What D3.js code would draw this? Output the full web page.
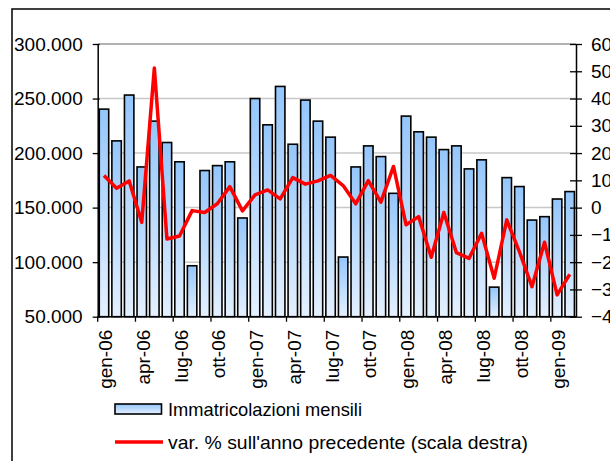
<!DOCTYPE html>
<html>
<head>
<meta charset="UTF-8" />
<script src="https://d3js.org/d3.v7.min.js"></script>
<style>
    body { margin: 0; background: #fff; }
    svg { display: block; font-family: "Liberation Sans", Arial, sans-serif; }
</style>
</head>
<body>
<script>
    // mesi da gen-06 a feb-09
    const mesi = ["gen-06","feb-06","mar-06","apr-06","mag-06","giu-06","lug-06","ago-06","set-06","ott-06","nov-06","dic-06",
        "gen-07","feb-07","mar-07","apr-07","mag-07","giu-07","lug-07","ago-07","set-07","ott-07","nov-07","dic-07",
        "gen-08","feb-08","mar-08","apr-08","mag-08","giu-08","lug-08","ago-08","set-08","ott-08","nov-08","dic-08",
        "gen-09","feb-09"];
    // immatricolazioni mensili (scala sinistra)
    const immatricolazioni = [240300, 211200, 253200, 187300, 229300, 209700, 192000, 96700, 184000, 188500, 192000, 140500,
        250000, 225900, 261100, 208100, 248600, 229300, 214600, 104700, 187300, 206600, 196800, 163100,
        233900, 219500, 214600, 203200, 206600, 185500, 193800, 77100, 177500, 169300, 138600, 141700,
        157900, 164700];
    // var. % sull'anno precedente (scala destra)
    const variazione = [11.8, 7.1, 9.8, -5.4, 51.2, -11.5, -10.4, -1.1, -1.8, 1.4, 7.7, -1.2,
        4.7, 6.5, 3.2, 11.0, 8.6, 9.8, 11.8, 8.1, 1.4, 9.9, 2.0, 15.1,
        -6.3, -3.3, -18.2, -1.8, -16.5, -18.6, -9.4, -25.9, -4.5, -16.1, -29.0, -12.7,
        -32.0, -24.5];
    const tickSx = [50000, 100000, 150000, 200000, 250000, 300000];
    const tickDx = [-40, -30, -20, -10, 0, 10, 20, 30, 40, 50, 60];
    const etichetteX = mesi.filter((d, i) => i % 3 === 0);

    const width = 610, height = 461;
    const pLeft = 97.7, pRight = 576, pTop = 44, pBottom = 316.7;

    const svg = d3.select("body").append("svg")
        .attr("width", width)
        .attr("height", height);

    // cornice del grafico
    svg.append("rect")
        .attr("x", 12).attr("y", 9)
        .attr("width", 700).attr("height", 600)
        .attr("fill", "none")
        .attr("stroke", "#000")
        .attr("stroke-width", 1.5);

    const grad = svg.append("defs").append("linearGradient")
        .attr("id", "barra")
        .attr("x1", 0).attr("y1", 0).attr("x2", 0).attr("y2", 1);
    grad.append("stop").attr("offset", "0%").attr("stop-color", "#94c6fb");
    grad.append("stop").attr("offset", "100%").attr("stop-color", "#e4f0ff");

    const x = d3.scaleBand()
        .domain(mesi)
        .range([pLeft, pRight])
        .paddingInner(0.25)
        .paddingOuter(0.125);

    const ySx = d3.scaleLinear().domain([50000, 300000]).range([pBottom, pTop]);
    const yDx = d3.scaleLinear().domain([-40, 60]).range([pBottom, pTop]);

    const fmt = d => d3.format(",")(d).replace(/,/g, ".");

    // griglia
    svg.append("g")
        .selectAll("line")
        .data(tickSx.slice(1))
        .join("line")
        .attr("x1", pLeft).attr("x2", pRight)
        .attr("y1", d => ySx(d)).attr("y2", d => ySx(d))
        .attr("stroke", d => d === 300000 ? "#999" : "#c8c8c8")
        .attr("stroke-width", 1.5);

    // barre
    svg.append("g")
        .selectAll("rect")
        .data(immatricolazioni)
        .join("rect")
        .attr("x", (d, i) => x(mesi[i]))
        .attr("width", x.bandwidth())
        .attr("y", d => ySx(d))
        .attr("height", d => pBottom - ySx(d))
        .attr("fill", "url(#barra)")
        .attr("stroke", "#000")
        .attr("stroke-width", 1.6);

    // asse sinistro
    const asseSx = svg.append("g")
        .attr("transform", `translate(${pLeft},0)`)
        .call(d3.axisLeft(ySx).tickValues(tickSx).tickFormat(fmt).tickSizeInner(5).tickSizeOuter(0).tickPadding(10));

    // asse destro
    const asseDx = svg.append("g")
        .attr("transform", `translate(${pRight},0)`)
        .call(d3.axisRight(yDx).tickValues(tickDx).tickSizeInner(6).tickSizeOuter(0).tickPadding(9));
    asseDx.selectAll(".tick line").attr("x1", -6);

    // asse x
    const xStep = x.step();
    const asseX = svg.append("g")
        .attr("transform", `translate(0,${pBottom})`);
    asseX.append("line")
        .attr("x1", pLeft).attr("x2", pRight)
        .attr("stroke", "#000").attr("stroke-width", 1.5);
    asseX.selectAll(".tk")
        .data(d3.range(0, mesi.length + 1, 3))
        .join("line")
        .attr("class", "tk")
        .attr("x1", i => pLeft + i * xStep).attr("x2", i => pLeft + i * xStep)
        .attr("y1", 0).attr("y2", 5)
        .attr("stroke", "#000").attr("stroke-width", 1.3);
    asseX.selectAll("text")
        .data(etichetteX)
        .join("text")
        .attr("transform", d => `translate(${x(d) + x.bandwidth() / 2 + 1.5},13) rotate(-90)`)
        .attr("text-anchor", "end")
        .attr("dy", "0.35em")
        .attr("font-size", 19)
        .attr("fill", "#000")
        .text(d => d);

    [asseSx, asseDx].forEach(a => {
        a.select(".domain").attr("stroke", "#000").attr("stroke-width", 1.5);
        a.selectAll(".tick line").attr("stroke", "#000").attr("stroke-width", 1.3);
        a.selectAll("text").attr("font-size", 19).attr("fill", "#000")
            .attr("font-family", "Liberation Sans, Arial, sans-serif");
    });
    asseSx.selectAll(".tick line").attr("x2", -5).attr("x1", 2);

    // linea variazione %
    const linea = d3.line()
        .x((d, i) => x(mesi[i]) + x.bandwidth() / 2)
        .y(d => yDx(d));
    svg.append("path")
        .datum(variazione)
        .attr("d", linea)
        .attr("fill", "none")
        .attr("stroke", "#ff0000")
        .attr("stroke-width", 3.5)
        .attr("stroke-linejoin", "round");

    // legenda
    const leg = svg.append("g");
    leg.append("rect")
        .attr("x", 115).attr("y", 404)
        .attr("width", 46.5).attr("height", 10)
        .attr("fill", "url(#barra)")
        .attr("stroke", "#000").attr("stroke-width", 1.6);
    leg.append("text")
        .attr("x", 168).attr("y", 409)
        .attr("dy", "0.35em")
        .attr("font-size", 19)
        .attr("textLength", 194)
        .attr("lengthAdjust", "spacingAndGlyphs")
        .text("Immatricolazioni mensili");
    leg.append("line")
        .attr("x1", 115).attr("x2", 163)
        .attr("y1", 442).attr("y2", 442)
        .attr("stroke", "#ff0000").attr("stroke-width", 3.5);
    leg.append("text")
        .attr("x", 168).attr("y", 442)
        .attr("dy", "0.35em")
        .attr("font-size", 19)
        .attr("textLength", 360)
        .attr("lengthAdjust", "spacingAndGlyphs")
        .text("var. % sull'anno precedente (scala destra)");
</script>
</body>
</html>
